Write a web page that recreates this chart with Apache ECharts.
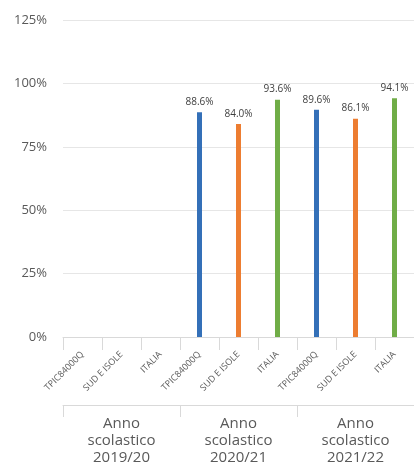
<!DOCTYPE html>
<html><head><meta charset="utf-8">
<script src="https://cdn.jsdelivr.net/npm/echarts@6/dist/echarts.min.js"></script>
<style>html,body{margin:0;padding:0;background:#fff}#c{width:414px;height:467px}</style>
</head><body><div id="c"></div>
<script>
const categories = ['TPIC84000Q','SUD E ISOLE','ITALIA','TPIC84000Q','SUD E ISOLE','ITALIA','TPIC84000Q','SUD E ISOLE','ITALIA'];
const groups = ['Anno\nscolastico\n2019/20','Anno\nscolastico\n2020/21','Anno\nscolastico\n2021/22'];
const schoolValues = [null, 88.6, 89.6];
const regionValues = [null, 84.0, 86.1];
const italyValues = [null, 93.6, 94.1];
const yTicks = [0, 25, 50, 75, 100, 125];

function spread(vals, offset) {
  const arr = new Array(categories.length).fill(null);
  vals.forEach((v, i) => { arr[i * 3 + offset] = v; });
  return arr;
}
const labelOpt = {show: true, position: 'top', distance: 5, fontSize: 10, color: '#404040', fontFamily: 'Open Sans',
  formatter: p => p.value == null ? '' : p.value.toFixed(1) + '%'};
function mk(name, vals, off, color) {
  return {name, type: 'bar', xAxisIndex: 0, data: spread(vals, off), barWidth: 5, barGap: '-100%',
    itemStyle: {color}, label: labelOpt};
}
const chart = echarts.init(document.getElementById('c'));
chart.setOption({
  animation: false,
  grid: {left: 63, right: 0, top: 20, bottom: 130, containLabel: false},
  xAxis: [{
    type: 'category', data: categories, position: 'bottom',
    axisLine: {lineStyle: {color: '#d9d9d9'}},
    axisTick: {show: true, alignWithLabel: false, length: 13, lineStyle: {color: '#d9d9d9'}},
    axisLabel: {rotate: 45, fontSize: 9, color: '#595959', interval: 0, margin: 16, fontFamily: 'Open Sans'}
  }, {
    type: 'category', data: groups, position: 'bottom', offset: 68,
    axisLine: {show: true, lineStyle: {color: '#d9d9d9'}},
    axisTick: {show: true, length: 12, interval: 0, lineStyle: {color: '#d9d9d9'}},
    axisLabel: {fontSize: 15, color: '#595959', lineHeight: 17, interval: 0, margin: 10, fontFamily: 'Open Sans'}
  }],
  yAxis: {
    type: 'value', min: yTicks[0], max: yTicks[yTicks.length - 1], interval: 25,
    axisLine: {show: false}, axisTick: {show: false},
    splitLine: {lineStyle: {color: '#e6e6e6'}},
    axisLabel: {formatter: v => v + '%', fontSize: 13, color: '#595959', margin: 16, fontFamily: 'Open Sans'}
  },
  series: [
    mk('TPIC84000Q', schoolValues, 0, '#3470b8'),
    mk('SUD E ISOLE', regionValues, 1, '#ed7d31'),
    mk('ITALIA', italyValues, 2, '#70ad47'),
    {type: 'bar', xAxisIndex: 1, data: [null, null, null]}
  ]
});
</script></body></html>
